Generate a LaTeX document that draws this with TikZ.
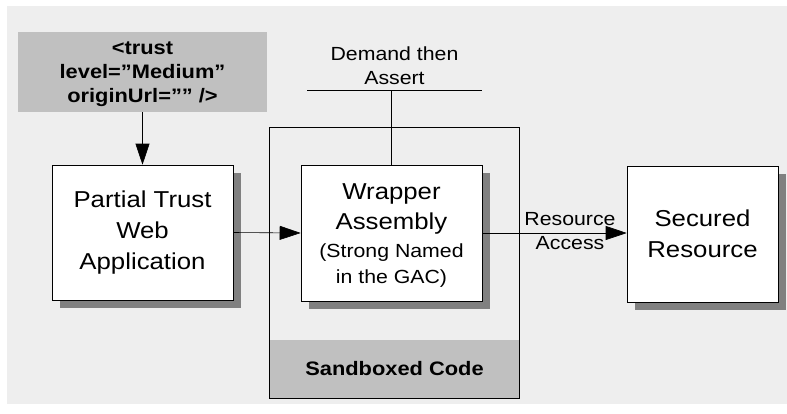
\documentclass[tikz,border=0pt]{standalone}
\usepackage{fontspec}
\setmainfont{Liberation Sans}[FakeStretch=1.12]
\usetikzlibrary{arrows.meta,shadows}
\definecolor{bggray}{HTML}{EEEEEE}
\definecolor{boxgray}{HTML}{C0C0C0}
\definecolor{shadegray}{HTML}{808080}
\newcommand\bigf{\fontsize{23}{31}\selectfont}
\newcommand\smallf{\fontsize{19}{24}\selectfont}
\newcommand\boldf{\fontsize{19.5}{24}\selectfont\bfseries}
\begin{document}
\begin{tikzpicture}[x=1pt,y=-1pt, line width=0.6pt,
  box/.style={draw, fill=white, inner sep=0pt, align=center, font=\bigf,
    drop shadow={shadow xshift=8pt, shadow yshift=-8pt, fill=shadegray, opacity=1}},
  arr/.style={-{Triangle[length=21pt,width=14pt]}},
  lbl/.style={font=\smallf, align=center, inner sep=0pt}]
\useasboundingbox (0,0) rectangle (787,413);
\fill[bggray] (7,6) rectangle (787,404);
% trust box
\node[fill=boxgray, minimum width=249pt, minimum height=80pt, inner sep=0pt,
  font=\boldf, align=center] (trust) at (142.5,72) {};
\node[font=\boldf, align=center, inner sep=0pt] (trusttext) at (142.5,74) {<trust\\level=”Medium”\\originUrl=”” />};
% sandbox
\node[minimum width=249pt, minimum height=270pt, inner sep=0pt] (sandbox) at (394.5,263) {};
\fill[boxgray] (sandbox.south west) rectangle ([yshift=58pt]sandbox.south east);
\draw (sandbox.south west) rectangle (sandbox.north east);
\node[font=\boldf, inner sep=0pt] (sbl) at (394.5,369) {Sandboxed Code};
% boxes
\node[box, minimum width=181pt, minimum height=135pt] (pta) at (142.5,232.5) {Partial Trust\\Web\\Application};
\node[box, minimum width=181pt, minimum height=136pt] (wrap) at (391.5,233) {};
\node[align=center, inner sep=0pt, font=\bigf] (wraptext) at (391.5,236)
  {Wrapper\\[-1pt]Assembly\\[-3pt]{\smallf (Strong Named}\\[-5pt]{\smallf in the GAC)}};
\node[box, minimum width=151pt, minimum height=136pt] (sec) at (702.5,234) {Secured\\Resource};
% demand then assert
\coordinate (dl) at (307,90.7);
\coordinate (dr) at (482,90.7);
\draw (dl) -- (dr);
\draw (wrap.north) -- (wrap.north |- dl);
\node[lbl] (dem) at (394.5,66) {Demand then\\Assert};
% resource access
\node[lbl] (ra) at (570,231) {Resource\\Access};
% arrows
\draw[arr] (trust.south) -- (pta.north);
\draw[arr] (pta.east) -- (wrap.west);
\draw[arr] (wrap.east) -- (wrap.east -| sec.west);
\end{tikzpicture}
\end{document}
